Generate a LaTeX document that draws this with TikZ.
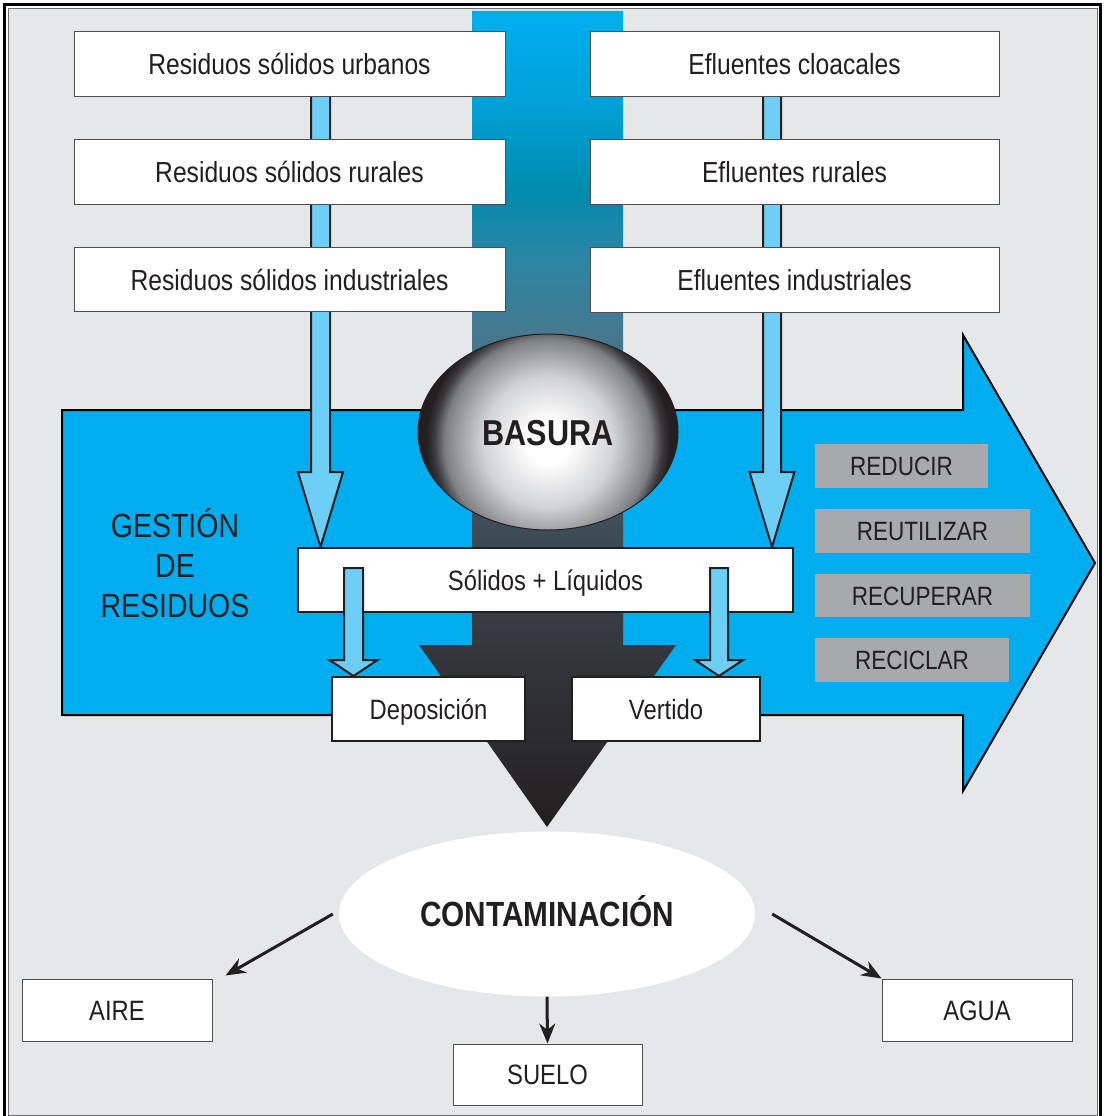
\documentclass[tikz,border=0pt]{standalone}
\usepackage{fontspec}
\setmainfont{Liberation Sans}[FakeStretch=0.85]
\usetikzlibrary{shapes.geometric,arrows.meta,calc}
\definecolor{bggray}{HTML}{E6E7E8}
\definecolor{cyanb}{HTML}{00AEEF}
\definecolor{lightb}{HTML}{6DCFF6}
\definecolor{ink}{HTML}{231F20}
\definecolor{grayb}{HTML}{A7A9AC}
\definecolor{boxline}{HTML}{4D4D4F}
\definecolor{frameline}{HTML}{6D6E71}
\definecolor{bandA}{HTML}{00AEEF}
\definecolor{bandB}{HTML}{00A2D9}
\definecolor{bandC}{HTML}{008BAE}
\definecolor{bandD}{HTML}{2A86A5}
\definecolor{bandE}{HTML}{447A91}
\definecolor{bandF}{HTML}{426470}
\definecolor{bandG}{HTML}{3E4E5A}
\definecolor{bandH}{HTML}{35383E}
\definecolor{bandI}{HTML}{231F20}
\definecolor{ballB}{HTML}{D2D3D5}
\definecolor{ballC}{HTML}{A3A4A8}
\definecolor{ballD}{HTML}{7E7F83}
\definecolor{ballE}{HTML}{3A393C}
\pgfdeclareverticalshading{bandshade}{100bp}{color(0bp)=(bandI); color(25bp)=(bandI); color(36.5bp)=(bandH); color(43.8bp)=(bandG); color(50bp)=(bandF); color(55.5bp)=(bandE); color(60bp)=(bandD); color(64bp)=(bandC); color(69.5bp)=(bandB); color(75bp)=(bandA); color(100bp)=(bandA)}
\pgfdeclareradialshading{ballshade}{\pgfpointorigin}{color(0bp)=(white); color(4bp)=(white); color(12bp)=(ballB); color(16bp)=(ballC); color(19bp)=(ballD); color(21bp)=(ballE); color(22.5bp)=(ink); color(50bp)=(ink)}
\pgfdeclarelayer{back}
\pgfdeclarelayer{mid}
\pgfsetlayers{back,mid,main}
% block arrow: #1 x centre, #2 start coord, #3 tip coord, #4 shaft half width, #5 head half width, #6 head length
\newcommand\blockarr[6]{%
  \filldraw[barrow] let \p1=(#2), \p2=(#3) in
    (#1pt-#4pt,\y1) -- (#1pt+#4pt,\y1) -- (#1pt+#4pt,\y2+#6pt) -- (#1pt+#5pt,\y2+#6pt)
    -- (#1pt,\y2) -- (#1pt-#5pt,\y2+#6pt) -- (#1pt-#4pt,\y2+#6pt) -- cycle;}
\begin{document}
\begin{tikzpicture}[x=1pt,y=-1pt,
  tbox/.style={rectangle,draw=boxline,line width=1pt,fill=white,inner sep=0pt,text=ink,
    font=\fontsize{29}{34}\selectfont,text height=21pt,text depth=0pt},
  kbox/.style={tbox,draw=ink,line width=2pt,font=\fontsize{28}{34}\selectfont,text height=20pt},
  bbox/.style={tbox,font=\fontsize{28}{34}\selectfont,text height=20pt},
  gbox/.style={rectangle,fill=grayb,inner sep=0pt,text=ink,
    font=\fontsize{26.5}{32}\selectfont,text height=19pt,text depth=0pt},
  barrow/.style={fill=lightb,draw=ink,line width=2pt,line join=miter},
  conn/.style={draw=ink,line width=3pt,-{Stealth[length=20pt,width=16pt]}},
  lbl/.style={text=ink,inner sep=0pt,anchor=base,font=\fontsize{33.5}{40}\selectfont}]

\useasboundingbox (0,0) rectangle (1106,1116);

\begin{pgfonlayer}{back}
  \fill[white] (0,0) rectangle (1106,1116);
  \fill[bggray] (9,9.5) rectangle (1097,1115);
  \draw[frameline,line width=1pt] (8.5,9) rectangle (1097,1115);
  \draw[black,line width=2.6pt] (4.5,4.5) rectangle (1100.5,1130);
  % big management arrow
  \draw[fill=cyanb,draw=black,line width=2pt,line join=miter]
    (62,410) -- (963,410) -- (963,335) -- (1095,563) -- (963,791) -- (963,715) -- (62,715) -- cycle;
  % central shaded band with arrow head
  \shade[shading=bandshade] (472,11) -- (623,11) -- (623,645) -- (676,645) -- (547,827)
    -- (419,645) -- (472,645) -- cycle;
  % BASURA ball
  \begin{scope}
    \clip (548,432) ellipse [x radius=130pt, y radius=98pt];
    \shade[shading=ballshade] (548,442) circle [radius=136pt];
  \end{scope}
  \node[ellipse,draw=ink,line width=1pt,minimum width=260pt,minimum height=196pt,inner sep=0pt,
    text=ink,font=\bfseries\fontsize{36}{40}\selectfont,text height=26pt,text depth=0pt]
    (basura) at (548,432) {BASURA};
\end{pgfonlayer}

% source boxes
\node[tbox,minimum width=431pt,minimum height=64pt] (r1) at (289.5,64) {Residuos sólidos urbanos};
\node[tbox,minimum width=431pt,minimum height=65pt] (r2) at (289.5,171.5) {Residuos sólidos rurales};
\node[tbox,minimum width=431pt,minimum height=64pt] (r3) at (289.5,279.5) {Residuos sólidos industriales};
\node[tbox,minimum width=409pt,minimum height=64pt] (e1) at (794.5,64) {Efluentes cloacales};
\node[tbox,minimum width=409pt,minimum height=65pt] (e2) at (794.5,171.5) {Efluentes rurales};
\node[tbox,minimum width=409pt,minimum height=65pt] (e3) at (794.5,279.5) {Efluentes industriales};

% management text
\node[lbl] (g1) at (175,537) {GESTIÓN};
\node[lbl] (g2) at (175,577) {DE};
\node[lbl] (g3) at (175,617) {RESIDUOS};

\node[gbox,minimum width=173pt,minimum height=44pt] (reducir) at (901.5,466) {REDUCIR};
\node[gbox,minimum width=215pt,minimum height=44pt] (reutilizar) at (922.5,531) {REUTILIZAR};
\node[gbox,minimum width=215pt,minimum height=43pt] (recuperar) at (922.5,595.5) {RECUPERAR};
\node[gbox,minimum width=194pt,minimum height=44pt] (reciclar) at (912,660) {RECICLAR};

% collection and disposal
\node[kbox,minimum width=495pt,minimum height=64pt] (sol) at (545.5,580) {Sólidos + Líquidos};
\node[kbox,minimum width=193pt,minimum height=64pt] (dep) at (428.5,709) {Deposición};
\node[kbox,minimum width=188pt,minimum height=64pt] (vert) at (666,709) {Vertido};

\begin{pgfonlayer}{mid}
  \blockarr{320.5}{$(r1.south)+(0,-4)$}{sol.north}{9.5}{22.5}{75}
  \blockarr{772}{$(e1.south)+(0,-4)$}{sol.north}{9}{22.5}{75}
\end{pgfonlayer}
\blockarr{353.5}{$(sol.north)+(0,21)$}{dep.north}{9.5}{24}{16}
\blockarr{719}{$(sol.north)+(0,21)$}{vert.north}{9}{24}{16}

% contamination
\node[ellipse,fill=white,minimum width=416pt,minimum height=165pt,inner sep=0pt,text=ink,
  font=\bfseries\fontsize{35}{40}\selectfont,text height=25pt,text depth=0pt]
  (cont) at (547,914) {CONTAMINACIÓN};
\node[bbox,minimum width=190pt,minimum height=62pt] (aire) at (117,1010) {AIRE};
\node[bbox,minimum width=190pt,minimum height=62pt] (agua) at (977,1010) {AGUA};
\node[bbox,minimum width=189pt,minimum height=61pt] (suelo) at (547.5,1074.5) {SUELO};

\draw[conn] ($(cont.west)+(-6,0)$) -- ($(aire.north east)+(13,-3)$);
\draw[conn] ($(cont.east)+(17,0)$) -- (agua.north west);
\draw[conn] (cont.south) -- (suelo.north);
\end{tikzpicture}
\end{document}
